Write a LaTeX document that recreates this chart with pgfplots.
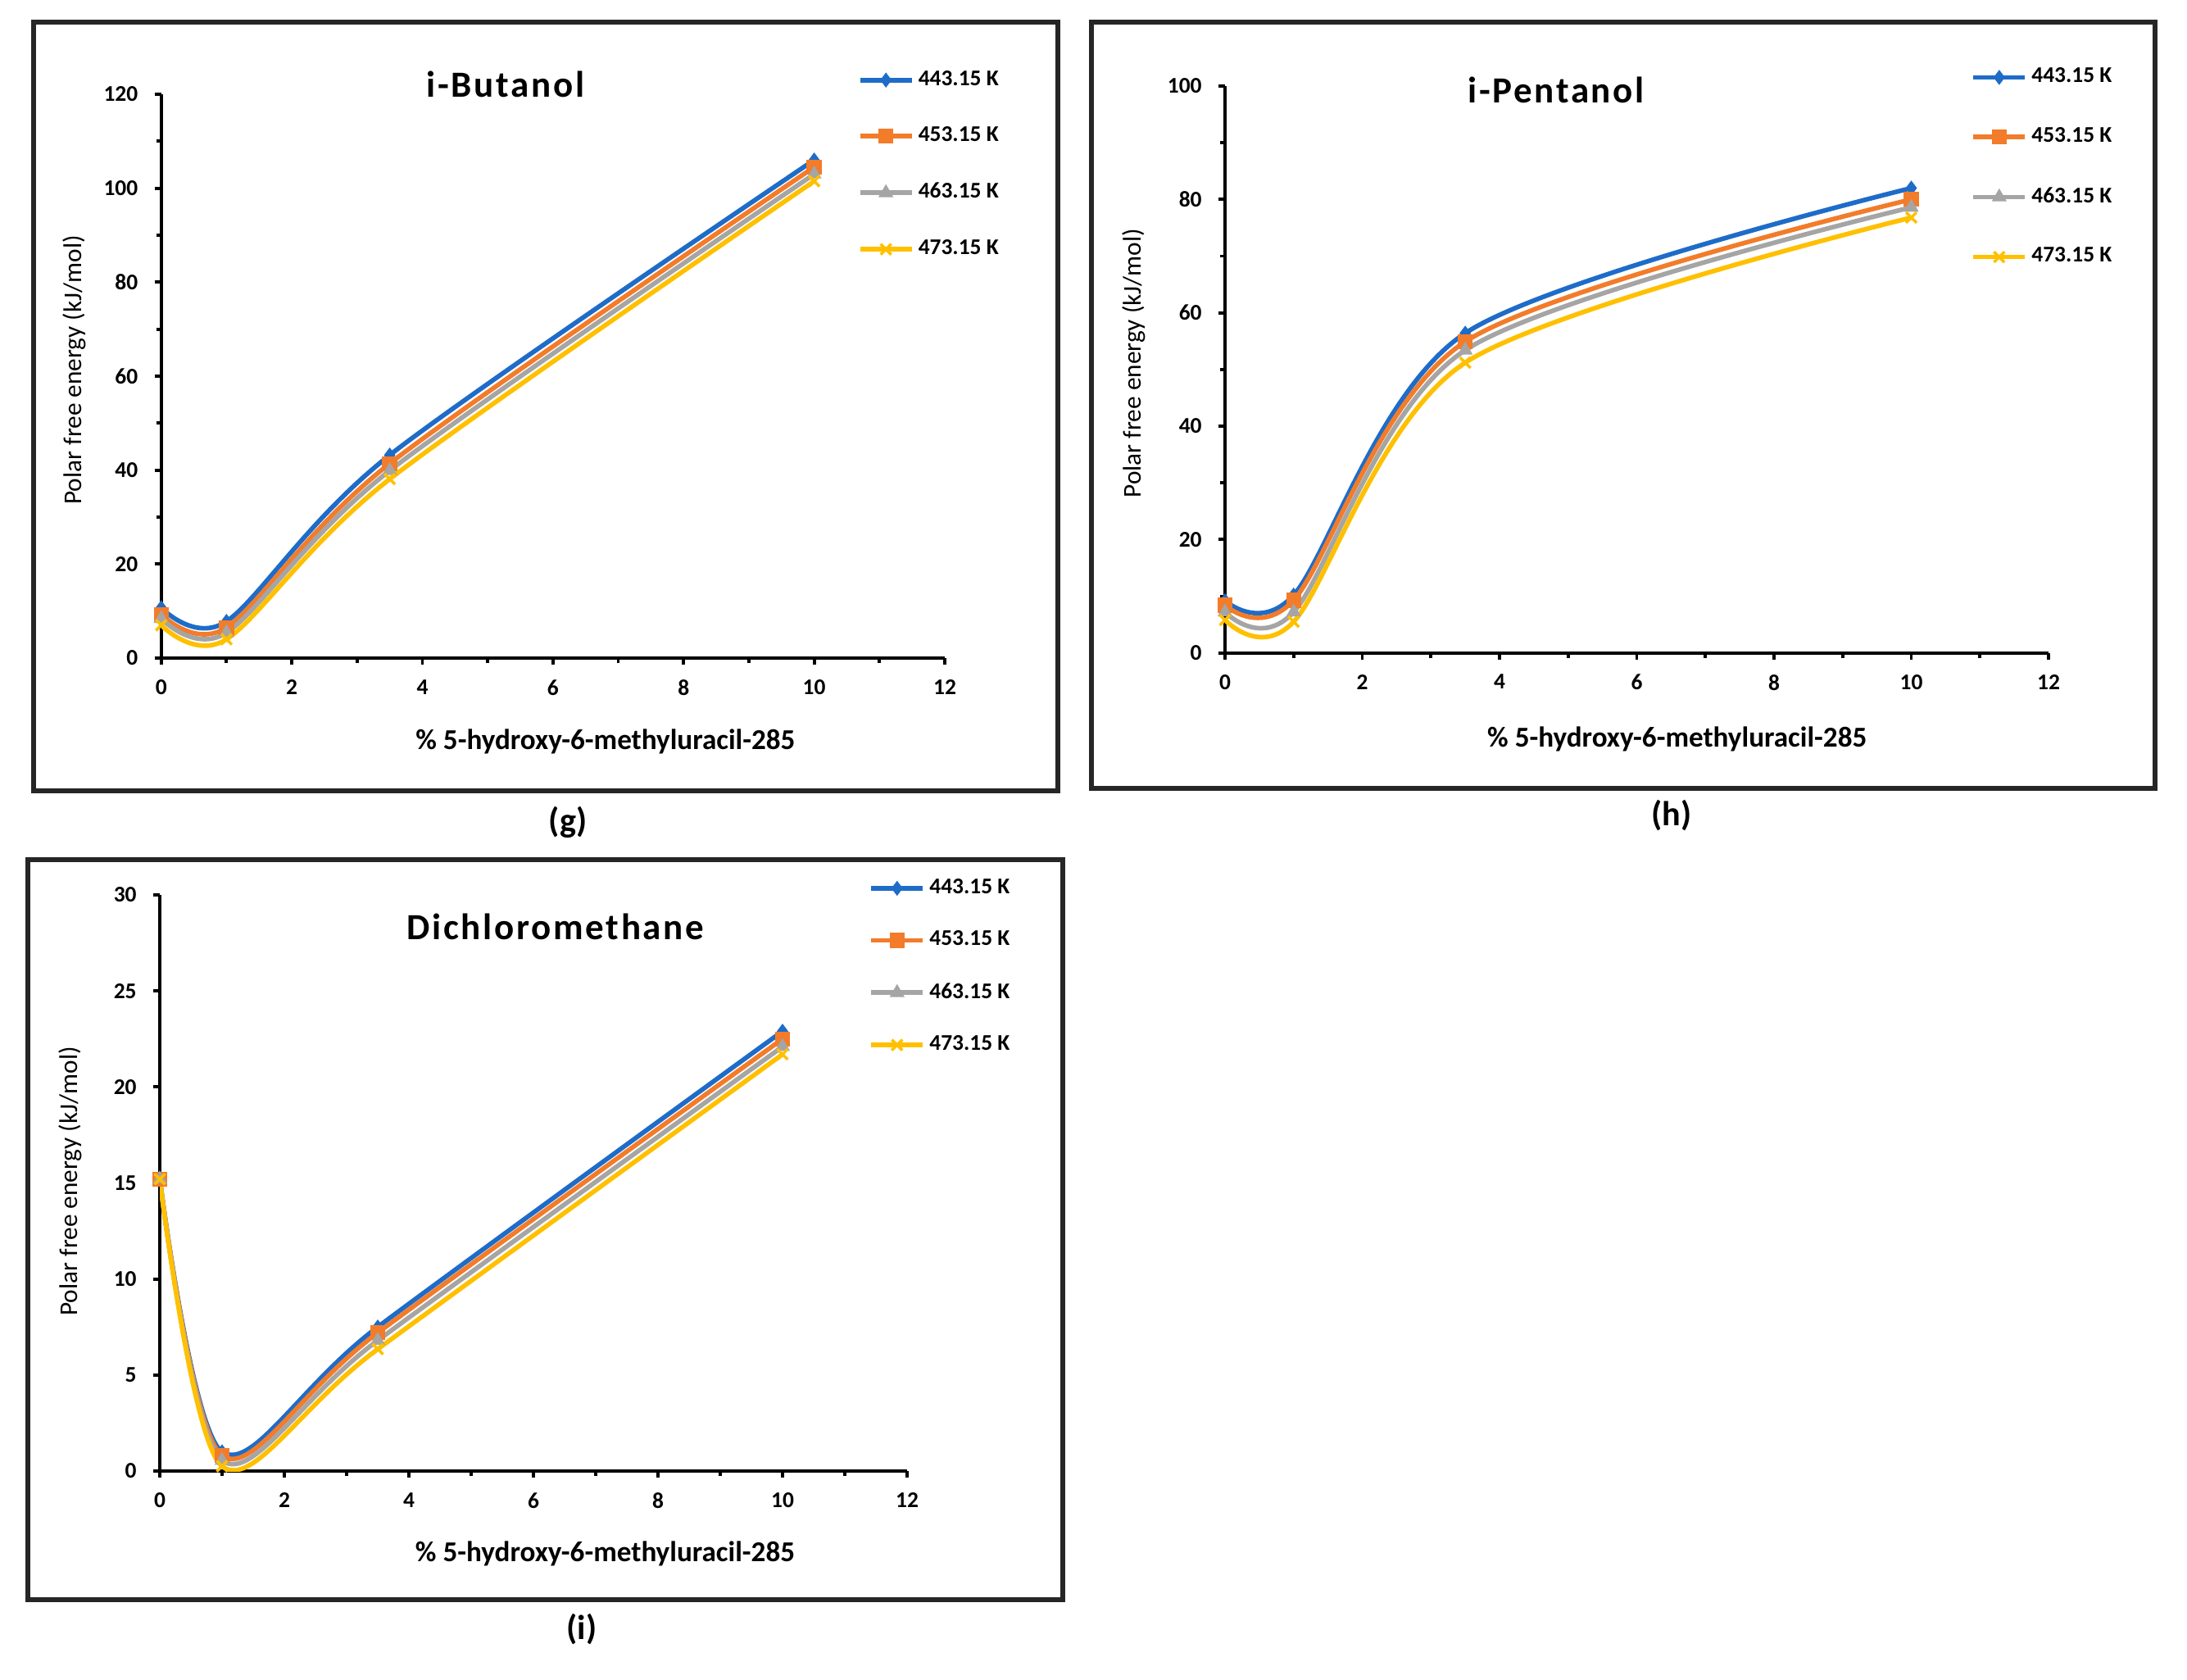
\documentclass[border=0pt]{standalone}
\usepackage{pgfplots}
\pgfplotsset{compat=1.18}
\usepackage{fontspec}
\setmainfont{Carlito}
\definecolor{cB}{RGB}{30,108,200}
\definecolor{cO}{RGB}{242,124,42}
\definecolor{cG}{RGB}{165,165,165}
\definecolor{cY}{RGB}{255,192,0}
\newcommand{\tfont}{\bfseries\fontsize{7.8}{9}\selectfont}
\pgfplotsset{
 common/.style={
  scale only axis,
  xmin=0,xmax=12, xtick={0,2,...,12}, minor x tick num=1,
  axis x line*=bottom, axis y line*=left,
  every inner x axis line/.append style={-},
  every outer x axis line/.append style={-},
  every inner y axis line/.append style={-},
  every outer y axis line/.append style={-},
  axis line style={line width=1.1pt, black,-},
  tick style={black, line width=1.1pt},
  tick align=outside,
  major tick length=0.08cm, minor tick length=0.06cm,
  ticklabel style={font=\tfont},
  /pgf/number format/assume math mode=true,
  xticklabel style={yshift=-0.06cm},
  yticklabel style={xshift=-0.08cm},
  every axis plot/.append style={line width=1.6pt, smooth},
  legend cell align=left,
  legend image code/.code={\draw[mark repeat=2,mark phase=2,##1] plot coordinates {(0cm,0cm) (0.315cm,0cm) (0.63cm,0cm)};},
  legend style={draw=none, fill=none, inner sep=0pt, outer sep=0pt, anchor=north west, font=\tfont, column sep=1.5pt, nodes={inner sep=0pt}},
  xlabel style={font=\bfseries\fontsize{10}{12}\selectfont, anchor=center},
  ylabel style={font=\fontsize{8.9}{10}\selectfont, anchor=center},
  xlabel={\% 5-hydroxy-6-methyluracil-285},
  ylabel={Polar free energy (kJ/mol)},
 },
 s1/.style={color=cB, mark=diamond*, mark size=2.3pt, mark options={solid,fill=cB,line width=0.4pt}},
 s2/.style={color=cO, mark=square*, mark size=2.4pt, mark options={solid,fill=cO,line width=0.4pt}},
 s3/.style={color=cG, mark=triangle*, mark size=2.6pt, mark options={solid,fill=cG,line width=0.4pt}},
 s4/.style={color=cY, mark=x, mark size=2.6pt, mark options={solid,line width=1pt}},
}
\begin{document}
\begin{tikzpicture}
\useasboundingbox (0,0) rectangle (26.69,-20.50);
\draw[line width=0.55mm, black!85] (0.41,-0.27) rectangle (12.91,-9.65);
\draw[line width=0.55mm, black!85] (13.32,-0.27) rectangle (26.30,-9.62);
\draw[line width=0.55mm, black!85] (0.34,-10.49) rectangle (12.97,-19.52);

% ---------------- (g) i-Butanol
\begin{axis}[common,
  at={(1.967cm,-8.03cm)}, anchor=south west,
  width=9.563cm, height=6.88cm,
  ymin=0, ymax=120, ytick={0,20,...,120}, minor y tick num=1,
  xlabel style={at={(axis description cs:0.567,-0.148)}},
  ylabel style={at={(axis description cs:-0.1105,0.511)}},
  legend style={at={(axis description cs:0.889,1.042)}, row sep=12.9pt},
]
\addplot[s1] coordinates {(0,10.7) (1,7.8) (3.5,43.2) (10,106)};
\addplot[s2] coordinates {(0,9.3) (1,6.5) (3.5,41.4) (10,104.5)};
\addplot[s3] coordinates {(0,8.4) (1,5.4) (3.5,39.9) (10,103)};
\addplot[s4] coordinates {(0,7.0) (1,4.0) (3.5,38.1) (10,101.5)};
\legend{443.15 K,453.15 K,463.15 K,473.15 K}
\end{axis}

% ---------------- (h) i-Pentanol
\begin{axis}[common,
  at={(14.95cm,-7.967cm)}, anchor=south west,
  width=10.05cm, height=6.917cm,
  ymin=0, ymax=100, ytick={0,20,...,100}, minor y tick num=1,
  xlabel style={at={(axis description cs:0.549,-0.152)}},
  ylabel style={at={(axis description cs:-0.1105,0.511)}},
  legend style={at={(axis description cs:0.906,1.032)}, row sep=14.1pt},
]
\addplot[s1] coordinates {(0,9.2) (1,10.2) (3.5,56.4) (10,82)};
\addplot[s2] coordinates {(0,8.4) (1,9.3) (3.5,54.9) (10,80)};
\addplot[s3] coordinates {(0,7.2) (1,7.2) (3.5,53.4) (10,78.6)};
\addplot[s4] coordinates {(0,5.8) (1,5.5) (3.5,51.2) (10,76.8)};
\legend{443.15 K,453.15 K,463.15 K,473.15 K}
\end{axis}

% ---------------- (i) Dichloromethane
\begin{axis}[common,
  at={(1.95cm,-17.95cm)}, anchor=south west,
  width=9.12cm, height=7.03cm,
  ymin=0, ymax=30, ytick={0,5,...,30},
  xlabel style={at={(axis description cs:0.596,-0.144)}},
  ylabel style={at={(axis description cs:-0.1195,0.503)}},
  legend style={at={(axis description cs:0.949,1.028)}, row sep=11.45pt},
]
\addplot[s1] coordinates {(0,15.2) (1,1.0) (3.5,7.5) (10,22.9)};
\addplot[s2] coordinates {(0,15.2) (1,0.8) (3.5,7.2) (10,22.5)};
\addplot[s3] coordinates {(0,15.2) (1,0.55) (3.5,6.8) (10,22.1)};
\addplot[s4] coordinates {(0,15.2) (1,0.25) (3.5,6.35) (10,21.7)};
\legend{443.15 K,453.15 K,463.15 K,473.15 K}
\end{axis}

% titles and panel labels
\node[font=\bfseries\fontsize{12.8}{14}\selectfont\addfontfeature{LetterSpace=6}] at (6.17,-1.03) {i-Butanol};
\node[font=\bfseries\fontsize{12.8}{14}\selectfont\addfontfeature{LetterSpace=6}] at (18.99,-1.10) {i-Pentanol};
\node[font=\bfseries\fontsize{12.8}{14}\selectfont\addfontfeature{LetterSpace=6}] at (6.78,-11.31) {Dichloromethane};
\node[font=\bfseries\fontsize{12}{14}\selectfont] at (6.93,-10.03) {(g)};
\node[font=\bfseries\fontsize{12}{14}\selectfont] at (20.40,-9.95) {(h)};
\node[font=\bfseries\fontsize{12}{14}\selectfont] at (7.10,-19.88) {(i)};
\end{tikzpicture}
\end{document}
